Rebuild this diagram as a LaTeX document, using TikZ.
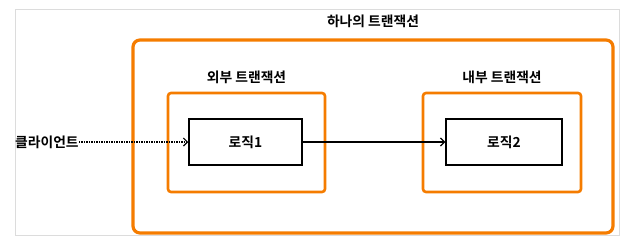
\documentclass[tikz,border=0pt]{standalone}
\usepackage{fontspec}
\setmainfont{Noto Sans CJK KR}[BoldFont={Noto Sans CJK KR Bold}]
\usetikzlibrary{arrows.meta,positioning}
\definecolor{TxOrange}{HTML}{F57C00}
\definecolor{FrameGray}{HTML}{DCDCDC}
\tikzset{>={Straight Barb[length=4pt,width=8pt]},every node/.style={font=\bfseries\fontsize{13.8}{15}\selectfont},
 txbox/.style={draw=TxOrange,line width=2.6pt,rounded corners=3pt},
 logic/.style={draw=black,line width=1.5pt,fill=white,minimum width=113pt,minimum height=46pt}}
\begin{document}
\begin{tikzpicture}[x=1pt,y=-1pt]
\useasboundingbox (0,0) rectangle (624,239);
\draw[FrameGray,line width=0.8pt] (15,9) rectangle (619,235);
% one transaction around both
\node[txbox,line width=3.2pt,rounded corners=7pt,minimum width=480pt,minimum height=193pt] (whole) at (373,136.5) {};
\node (wholetitle) at (373,21) {하나의 트랜잭션};
% outer / inner
\node[txbox,minimum width=157pt,minimum height=99pt] (outer) at (246.5,142.5) {};
\node[txbox,minimum width=158pt,minimum height=99pt] (inner) at (502,142.5) {};
\node[above=4pt of outer] (outertitle) {외부 트랜잭션};
\node[above=4pt of inner] (innertitle) {내부 트랜잭션};
\node[logic] (logic1) at (245.5,142) {로직1};
\node[logic,minimum width=116pt] (logic2) at (504,142) {로직2};
\node[anchor=west,inner sep=0pt] (client) at (15,142) {클라이언트};
\draw[->,line width=1.2pt,dash pattern=on 1.2pt off 1.3pt] (client) -- (logic1);
\draw[->,line width=1.2pt] (logic1) -- (logic2);
\end{tikzpicture}
\end{document}
